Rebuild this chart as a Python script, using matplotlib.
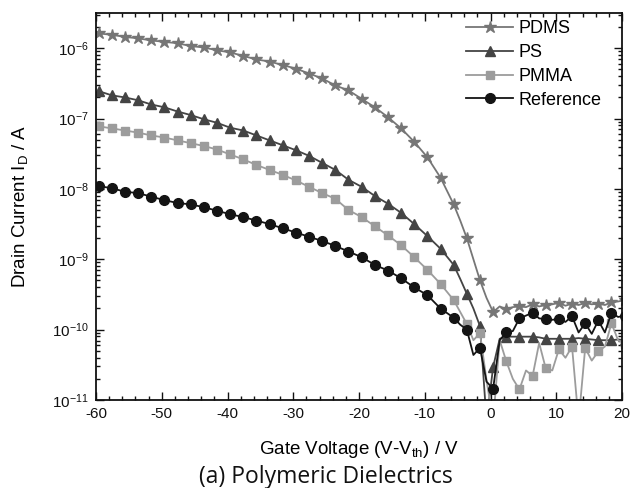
import numpy as np
import matplotlib
matplotlib.use("Agg")
import matplotlib.pyplot as plt
from matplotlib.ticker import FixedLocator, LogLocator, NullFormatter, FuncFormatter

plt.rcParams['font.family'] = ['Liberation Sans', 'DejaVu Sans']
plt.rcParams['mathtext.fontset'] = 'custom'
plt.rcParams['mathtext.rm'] = 'Liberation Sans'
plt.rcParams['mathtext.it'] = 'Liberation Sans:italic'
plt.rcParams['mathtext.bf'] = 'Liberation Sans:bold'
plt.rcParams['axes.unicode_minus'] = False

# Gate voltage: coarse steps (2 V) on the smooth branch, 1 V on the noisy tail
v_coarse = np.arange(-59.6, -5.0, 2.0)
v_fine = np.arange(-4.6, 20.5, 1.0)
gate_v = np.concatenate([v_coarse, v_fine])

# log10 of drain current (A)
pdms_log = [-5.79, -5.81, -5.84, -5.86, -5.89, -5.91, -5.93, -5.97, -5.99, -6.03,
            -6.06, -6.11, -6.16, -6.19, -6.24, -6.29, -6.36, -6.43, -6.53, -6.60,
            -6.72, -6.84, -6.98, -7.14, -7.33, -7.55, -7.84, -8.22,
            -8.45, -8.70, -9.00, -9.30, -9.55, -9.75, -9.67, -9.71, -9.68, -9.67,
            -9.68, -9.64, -9.67, -9.65, -9.64, -9.62, -9.66, -9.63, -9.65, -9.62,
            -9.64, -9.63, -9.65, -9.61, -9.60, -9.58]
ps_log = [-6.61, -6.67, -6.70, -6.74, -6.80, -6.84, -6.90, -6.95, -7.01, -7.06,
          -7.13, -7.17, -7.24, -7.31, -7.38, -7.45, -7.53, -7.63, -7.73, -7.87,
          -7.97, -8.10, -8.21, -8.34, -8.50, -8.67, -8.85, -9.08,
          -9.28, -9.49, -9.70, -9.95, -11.3, -10.53, -10.13, -10.10, -10.10, -10.10,
          -10.10, -10.10, -10.11, -10.13, -10.13, -10.13, -10.13, -10.13, -10.12, -10.13,
          -10.14, -10.15, -10.15, -10.15, -10.14, -10.15]
pmma_log = [-7.11, -7.14, -7.17, -7.20, -7.24, -7.27, -7.31, -7.35, -7.39, -7.44,
            -7.51, -7.58, -7.66, -7.73, -7.80, -7.88, -7.97, -8.06, -8.14, -8.30,
            -8.40, -8.53, -8.66, -8.80, -8.97, -9.15, -9.35, -9.58,
            -9.75, -9.92, -10.15, -10.05, -10.72, -11.3, -10.15, -10.45, -10.70, -10.85,
            -10.58, -10.66, -10.19, -10.55, -10.58, -10.28, -10.40, -10.24, -11.3, -10.26,
            -10.44, -10.31, -10.24, -9.91, -10.15, -10.20]
ref_log = [-7.96, -7.99, -8.04, -8.06, -8.11, -8.16, -8.20, -8.22, -8.26, -8.31,
           -8.36, -8.40, -8.45, -8.50, -8.56, -8.62, -8.68, -8.74, -8.81, -8.89,
           -8.97, -9.08, -9.16, -9.27, -9.40, -9.51, -9.70, -9.83,
           -9.93, -10.00, -10.36, -10.26, -10.74, -10.84, -10.15, -10.04, -10.02, -9.84,
           -9.80, -9.76, -9.84, -9.85, -9.86, -9.85, -9.89, -9.81, -10.04, -9.91,
           -10.06, -9.87, -10.04, -9.76, -9.82, -9.80]

labels = ["PDMS", "PS", "PMMA", "Reference"]
series = [pdms_log, ps_log, pmma_log, ref_log]
colors = ["#767676", "#444444", "#9c9c9c", "#141414"]
markers = ["*", "^", "s", "o"]
msizes = [9, 7.5, 6, 7]

# markers every 2 V
steps = np.round((gate_v + 59.6) * 10).astype(int)
mark_idx = list(np.where(steps % 20 == 0)[0])

fig = plt.figure(figsize=(6.32, 4.88), dpi=100)
ax = fig.add_axes([96 / 632, 1 - 400 / 488, 526 / 632, 387 / 488])

for lab, vals, c, m, ms in zip(labels, series, colors, markers, msizes):
    ax.plot(gate_v, 10.0 ** np.array(vals), color=c, lw=1.3, marker=m, ms=ms,
            mec=c, mfc=c, markevery=mark_idx, label=lab, clip_on=True)

ax.set_yscale("log")
ax.set_xlim(-60, 20)
ax.set_ylim(1e-11, 10 ** -5.5)

ax.xaxis.set_major_locator(FixedLocator(np.arange(-60, 21, 10)))
ax.xaxis.set_minor_locator(FixedLocator(np.arange(-60, 21, 2)))
ax.yaxis.set_major_locator(FixedLocator([1e-11, 1e-10, 1e-9, 1e-8, 1e-7, 1e-6]))
ax.yaxis.set_minor_locator(LogLocator(base=10, subs=np.arange(2, 10), numticks=20))
ax.yaxis.set_minor_formatter(NullFormatter())
ax.yaxis.set_major_formatter(FuncFormatter(lambda v, p: r"$10^{%d}$" % round(np.log10(v))))

ax.tick_params(which="both", direction="in", top=True, right=True, labelsize=11,
               width=1.0, colors="#111111")
ax.tick_params(which="major", length=6, pad=5)
ax.tick_params(which="minor", length=3)
for s in ax.spines.values():
    s.set_linewidth(1.3)
    s.set_color("#111111")

ax.set_xlabel(r"Gate Voltage (V-V$_\mathregular{th}$) / V", fontsize=13.5, labelpad=13)
ax.set_ylabel(r"Drain Current I$_\mathregular{D}$ / A", fontsize=13.5, labelpad=16)

ax.legend(loc="upper right", frameon=False, fontsize=13, handlelength=2.6,
          handletextpad=0.3, labelspacing=0.38, borderaxespad=0.0,
          bbox_to_anchor=(0.975, 1.0))

fig.text(326 / 632, 1 - 477 / 488, "(a) Polymeric Dielectrics", ha="center", va="center",
         fontsize=16.5, family=["Open Sans", "DejaVu Sans"], color="#111111")

plt.savefig("out.png", dpi=100)
